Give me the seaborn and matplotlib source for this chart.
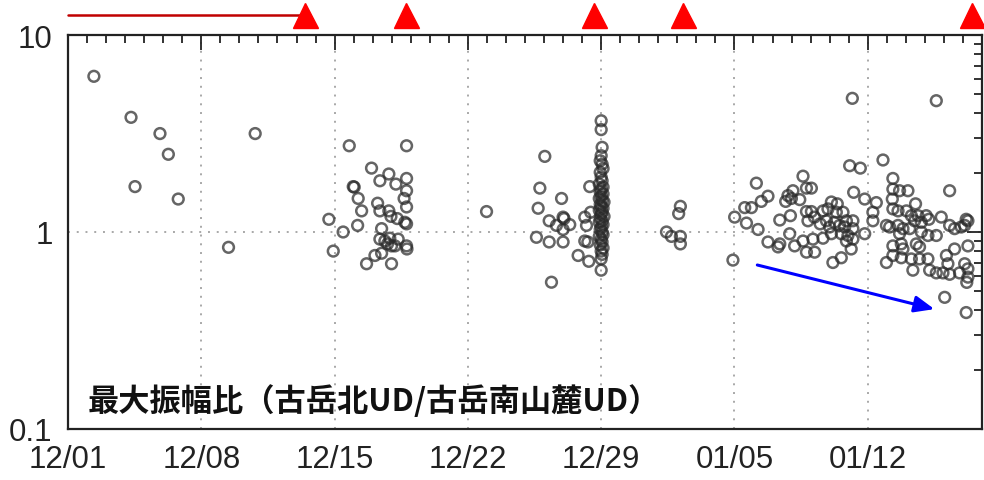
import matplotlib
matplotlib.use("Agg")
import matplotlib.pyplot as plt
import numpy as np
import pandas as pd
import seaborn as sns
from matplotlib.transforms import blended_transform_factory
from matplotlib.ticker import FixedLocator, NullFormatter

sns.set_style("white")
plt.rcParams['font.family'] = ['Liberation Sans', 'DejaVu Sans']

# ---- data: (days since 12/01, amplitude ratio) ----
early_pts = [(1.36, 6.17), (3.31, 3.82), (3.52, 1.70), (4.83, 3.16), (5.27, 2.48),
             (5.79, 1.47), (8.43, 0.836), (9.83, 3.16)]

mid_pts = [(14.77, 2.74), (17.78, 2.74), (15.94, 2.11), (16.85, 1.97), (16.38, 1.82),
           (17.78, 1.87), (17.22, 1.75), (14.98, 1.70), (15.03, 1.69), (17.78, 1.62),
           (15.24, 1.48), (17.65, 1.48), (16.26, 1.40), (17.78, 1.34), (15.42, 1.28),
           (16.38, 1.28), (16.85, 1.28), (16.96, 1.20), (17.29, 1.17), (13.70, 1.16),
           (17.69, 1.12), (17.78, 1.10), (15.21, 1.08), (14.45, 1.00), (16.47, 1.04),
           (16.38, 0.92), (16.90, 0.93), (17.34, 0.92), (16.78, 0.87), (16.99, 0.85),
           (16.64, 0.90), (17.78, 0.85), (17.80, 0.82), (13.93, 0.80), (16.12, 0.76),
           (16.47, 0.78), (17.17, 0.85), (15.68, 0.69), (16.99, 0.69), (21.98, 1.27)]

late_pts = [(25.04, 2.42), (24.78, 1.67), (25.92, 1.48), (24.69, 1.32), (27.40, 1.70),
            (25.27, 1.14), (26.00, 1.19), (26.05, 1.17), (25.65, 1.08), (26.35, 1.09),
            (26.00, 1.03), (27.14, 1.19), (27.45, 1.26), (27.23, 1.08), (24.60, 0.94),
            (25.27, 0.89), (26.00, 0.89), (27.14, 0.90), (27.30, 0.89), (26.79, 0.76),
            (27.35, 0.71), (25.39, 0.556)]

col_days = [28.0, 28.0, 28.05, 28.0, 27.95, 28.05, 28.1, 27.95, 28.0, 28.05,
            27.9, 28.1, 28.0, 27.95, 28.1, 28.0, 27.9, 28.05, 28.15, 27.95,
            28.0, 28.1, 27.9, 28.05, 28.0, 28.15, 27.95, 28.05, 27.9, 28.1,
            28.0, 27.95, 28.05, 28.1, 27.9, 28.0, 28.05, 27.95, 28.1, 28.0,
            28.05, 28.0, 28.0]
col_ratio = [3.67, 3.31, 2.69, 2.44, 2.30, 2.21, 2.10, 2.01, 1.90, 1.82,
             1.75, 1.69, 1.65, 1.60, 1.56, 1.52, 1.48, 1.45, 1.42, 1.38,
             1.35, 1.32, 1.29, 1.26, 1.23, 1.20, 1.17, 1.14, 1.12, 1.09,
             1.06, 1.03, 1.00, 0.97, 0.95, 0.92, 0.89, 0.86, 0.83, 0.80,
             0.77, 0.73, 0.64]

newyear_pts = [(32.16, 1.35), (32.07, 1.24), (31.43, 1.00), (31.69, 0.95),
               (32.16, 0.95), (32.16, 0.87)]

jan_a_pts = [(38.60, 1.92), (36.15, 1.77), (38.78, 1.67), (39.04, 1.67), (38.07, 1.62),
             (36.76, 1.52), (37.81, 1.53), (37.99, 1.48), (38.43, 1.46), (36.41, 1.43),
             (37.69, 1.43), (35.54, 1.33), (35.89, 1.33), (40.09, 1.42), (35.01, 1.19),
             (35.63, 1.11), (37.38, 1.15), (37.94, 1.21), (38.78, 1.27), (39.04, 1.27),
             (38.86, 1.14), (39.65, 1.28), (39.91, 1.31), (40.35, 1.26), (40.70, 1.26),
             (39.83, 1.14), (40.26, 1.12), (40.52, 1.08), (40.88, 1.14), (36.24, 1.03),
             (37.90, 0.98), (38.60, 0.90), (39.12, 0.92), (39.65, 0.93), (40.09, 0.98),
             (40.61, 0.98), (40.88, 0.90), (36.76, 0.89), (37.38, 0.87), (37.29, 0.84),
             (38.16, 0.85), (38.78, 0.79), (39.21, 0.79), (34.92, 0.72), (40.17, 0.70),
             (40.61, 0.74), (39.20, 1.19), (40.00, 1.06), (39.50, 1.10), (40.40, 1.39)]

jan_b_pts = [(42.80, 2.32), (41.05, 2.17), (41.61, 2.11), (43.32, 1.87), (46.30, 1.62),
             (43.32, 1.65), (43.67, 1.62), (44.11, 1.62), (41.26, 1.59), (41.84, 1.47),
             (42.45, 1.41), (43.29, 1.47), (44.51, 1.39), (42.27, 1.26), (42.27, 1.14),
             (43.32, 1.31), (43.59, 1.28), (44.03, 1.28), (44.29, 1.21), (44.64, 1.21),
             (45.07, 1.21), (44.46, 1.14), (44.81, 1.12), (45.21, 1.16), (45.86, 1.19),
             (47.17, 1.16), (46.30, 1.08), (46.56, 1.04), (46.91, 1.06), (42.98, 1.08),
             (43.15, 1.06), (43.59, 1.08), (43.67, 0.98), (43.85, 1.04), (44.20, 1.04),
             (44.81, 1.00), (45.16, 0.96), (45.60, 0.96), (41.22, 1.14), (40.79, 1.06),
             (41.22, 1.04), (40.96, 0.96), (41.22, 0.92), (41.13, 0.82), (41.84, 0.98),
             (43.32, 0.85), (43.76, 0.87), (43.85, 0.82), (44.55, 0.87), (44.72, 0.84),
             (42.98, 0.70), (43.32, 0.76), (43.76, 0.74), (44.29, 0.73), (44.72, 0.73),
             (44.37, 0.64), (45.16, 0.73), (45.25, 0.64), (45.60, 0.62), (46.13, 0.76),
             (46.21, 0.69), (46.56, 0.82), (45.95, 0.62), (46.30, 0.61), (46.82, 0.62),
             (47.09, 0.69), (47.26, 0.65), (47.26, 0.59), (47.26, 0.85), (47.20, 0.555),
             (46.04, 0.466), (47.17, 0.39), (47.09, 1.08), (47.26, 1.14), (41.19, 4.77),
             (45.60, 4.64)]

eruption_days = [12.44, 17.74, 27.6, 32.3, 47.5]   # red triangles
red_period = [0.0, 12.2]                            # red line at top
blue_arrow_start = (36.2, 0.68)
blue_arrow_end = (45.5, 0.406)

x_tick_days = [0, 7, 14, 21, 28, 35, 42]
x_tick_labels = ["12/01", "12/08", "12/15", "12/22", "12/29", "01/05", "01/12"]
y_ticks = [0.1, 1, 10]
y_tick_labels = ["0.1", "1", "10"]
title_text = "最大振幅比（古岳北UD/古岳南山麓UD）"

# ---- build frame ----
pts = early_pts + mid_pts + late_pts + newyear_pts + jan_a_pts + jan_b_pts
df = pd.DataFrame(pts, columns=["day", "ratio"])
df = pd.concat([df, pd.DataFrame({"day": col_days, "ratio": col_ratio})], ignore_index=True)

fig = plt.figure(figsize=(9.84, 4.81), dpi=100)
ax = fig.add_axes([68 / 984, 51 / 481, 914 / 984, 394 / 481])

sns.scatterplot(data=df, x="day", y="ratio", ax=ax, marker="o", s=60,
                facecolors="none", edgecolor="#2a2a2a", linewidth=1.8, alpha=0.72,
                legend=False, zorder=3)

ax.set_yscale("log")
ax.set_ylim(0.1, 10)
ax.set_xlim(0, 48)
ax.set_xlabel("")
ax.set_ylabel("")

ax.set_xticks(x_tick_days)
ax.set_xticklabels(x_tick_labels)
ax.xaxis.set_minor_locator(FixedLocator(np.arange(0, 49, 1)))
ax.set_yticks(y_ticks)
ax.set_yticklabels(y_tick_labels)
minor_y = [m * 10.0 ** e for e in (-1, 0) for m in range(2, 10)]
ax.yaxis.set_minor_locator(FixedLocator(minor_y))
ax.yaxis.set_minor_formatter(NullFormatter())

ax.tick_params(which="both", direction="in", top=True, right=True,
               color="#222222", width=1.3)
ax.tick_params(which="major", length=11)
ax.tick_params(which="minor", length=5.5)
ax.tick_params(axis="x", which="major", labelsize=22.5, pad=11, labelcolor="#222222")
ax.tick_params(axis="y", which="major", labelsize=22.5, pad=11, labelcolor="#222222")

for sp in ax.spines.values():
    sp.set_color("#222222")
    sp.set_linewidth(1.6)

ax.grid(True, which="major", axis="both", linestyle=(0, (1, 3.5)),
        color="#a8a8a8", linewidth=1.4, zorder=0)
ax.set_axisbelow(True)

ax.text(0.022, 0.047, title_text, transform=ax.transAxes, fontsize=22.5,
        fontweight="bold", family=["Noto Sans CJK JP", "DejaVu Sans"],
        va="baseline", ha="left", color="#111111", zorder=5)

trans = blended_transform_factory(ax.transData, ax.transAxes)
ax.plot(red_period, [1.0495, 1.0495], color="#c00000", lw=1.8,
        transform=trans, clip_on=False, zorder=4)
ax.plot(eruption_days, [1.051] * len(eruption_days), ls="none", marker="^",
        ms=18, color="#ff0000", mec="#ff0000", transform=trans, clip_on=False, zorder=5)

ax.annotate("", xy=blue_arrow_end, xytext=blue_arrow_start,
            arrowprops=dict(arrowstyle="-|>,head_length=0.6,head_width=0.25",
                            color="#0000ff", lw=2.2, mutation_scale=20,
                            shrinkA=0, shrinkB=0), zorder=6)

fig.savefig("out.png", dpi=100)
